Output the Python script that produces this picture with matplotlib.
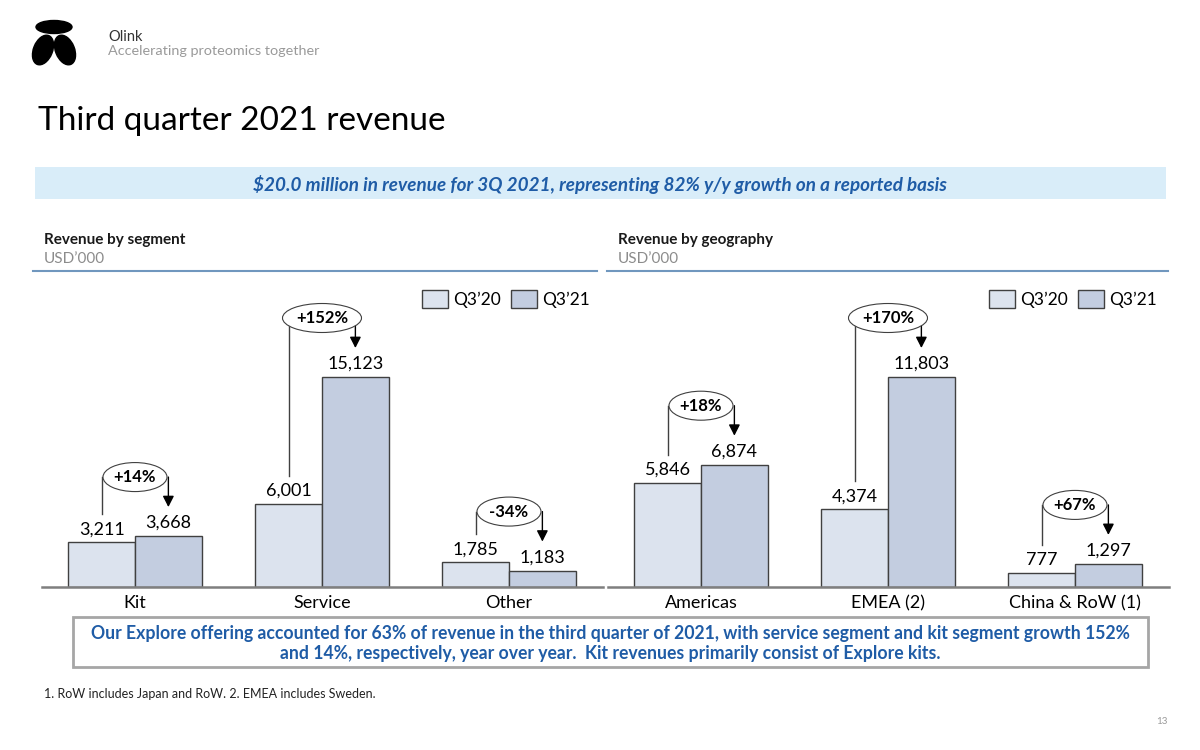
import numpy as np
import matplotlib.pyplot as plt
from matplotlib.patches import Ellipse, Rectangle

plt.rcParams['font.family'] = ['Lato', 'DejaVu Sans']

# chart values
segments = ['Kit', 'Service', 'Other']
seg_q320 = [3211, 6001, 1785]
seg_q321 = [3668, 15123, 1183]
seg_growth = ['+14%', '+152%', '-34%']

regions = ['Americas', 'EMEA (2)', 'China & RoW (1)']
geo_q320 = [5846, 4374, 777]
geo_q321 = [6874, 11803, 1297]
geo_growth = ['+18%', '+170%', '+67%']

series_names = ['Q3\u201920', 'Q3\u201921']

C20 = '#DCE3EE'
C21 = '#C3CDE0'
EDGE = '#404040'
BLUE = '#1F5CA6'

W, H = 1200, 750
fig = plt.figure(figsize=(12, 7.5), dpi=100)

# background layer in pixel coordinates (y down)
bg = fig.add_axes([0, 0, 1, 1], zorder=0)
bg.set_xlim(0, W)
bg.set_ylim(H, 0)
bg.axis('off')

# logo
bg.add_patch(Ellipse((54, 27), 36, 13, color='black'))
bg.add_patch(Ellipse((43, 50), 19, 31, angle=22, color='black'))
bg.add_patch(Ellipse((65, 50), 19, 31, angle=-22, color='black'))
bg.text(108, 37, 'Olink', fontsize=10.5, color='#333333', va='center')
bg.text(108, 51, 'Accelerating proteomics together', fontsize=10.4, color='#9A9A9A', va='center')

bg.text(38, 121, 'Third quarter 2021 revenue', fontsize=24, color='black', va='center')

# headline banner
bg.add_patch(Rectangle((35, 167), 1131, 32, color='#D9EDF9', lw=0))
bg.text(600, 184, '$20.0 million in revenue for 3Q 2021, representing 82% y/y growth on a reported basis',
        ha='center', va='center', fontsize=13.6, color=BLUE, fontweight='bold', fontstyle='italic')

# panel headers
for x0, x1, title in [(33, 597, 'Revenue by segment'), (607, 1168, 'Revenue by geography')]:
    bg.text(x0 + 11, 240, title, fontsize=11, fontweight='bold', color='#1A1A1A', va='center')
    bg.text(x0 + 11, 259, 'USD\u2019000', fontsize=11, color='#8C8C8C', va='center')
    bg.plot([x0, x1], [271, 271], color='#7097BE', lw=1.5)

# bottom message box
bg.add_patch(Rectangle((73, 617), 1075, 50, fc='white', ec='#A6A6A6', lw=2))
bg.text(610, 634, 'Our Explore offering accounted for 63% of revenue in the third quarter of 2021, '
        'with service segment and kit segment growth 152%', ha='center', va='center',
        fontsize=12.7, fontweight='bold', color=BLUE)
bg.text(610, 653, 'and 14%, respectively, year over year.  Kit revenues primarily consist of Explore kits.',
        ha='center', va='center', fontsize=12.7, fontweight='bold', color=BLUE)

bg.text(44, 694, '1. RoW includes Japan and RoW. 2. EMEA includes Sweden.', fontsize=9,
        color='#222222', va='center')
bg.text(1168, 722, '13', fontsize=7, color='#999999', ha='right', va='center')

AX_H = 307      # axes height in pixels
BAR_PX = 210    # pixel height of the tallest bar


def draw_panel(left_px, cats, v20, v21, growth, legend_right):
    ax = fig.add_axes([left_px / W, (H - 587) / H, 561 / W, AX_H / H], zorder=1)
    ax.patch.set_alpha(0)
    n = len(cats)
    x = np.arange(n)
    bw = 0.357
    ymax = max(v20 + v21) * AX_H / BAR_PX
    ax.set_xlim(-0.5, n - 0.5)
    ax.set_ylim(0, ymax)
    py = ymax / AX_H
    px = n / 561

    b1 = ax.bar(x - bw / 2, v20, bw, color=C20, edgecolor=EDGE, linewidth=1)
    b2 = ax.bar(x + bw / 2, v21, bw, color=C21, edgecolor=EDGE, linewidth=1)

    for xi, a, b, g in zip(x, v20, v21, growth):
        ax.text(xi - bw / 2, a + 13 * py, f'{a:,}', ha='center', va='center', fontsize=13)
        ax.text(xi + bw / 2, b + 13 * py, f'{b:,}', ha='center', va='center', fontsize=13)
        ey = b + 59 * py
        ax.plot([xi - bw / 2] * 2, [a + 28 * py, ey], color=EDGE, lw=1, zorder=3)
        ax.annotate('', xy=(xi + bw / 2, b + 29 * py), xytext=(xi + bw / 2, ey),
                    arrowprops=dict(arrowstyle='-|>,head_length=0.55,head_width=0.28',
                                    color='black', lw=1, mutation_scale=12,
                                    shrinkA=0, shrinkB=0), zorder=3)
        ew = (4 + 15 * len(g)) * px
        ax.add_patch(Ellipse((xi, ey), ew, 29 * py, fc='white', ec=EDGE, lw=0.8, zorder=4))
        ax.text(xi, ey, g, ha='center', va='center', fontsize=12, fontweight='bold', zorder=5)

    for s in ['top', 'left', 'right']:
        ax.spines[s].set_visible(False)
    ax.spines['bottom'].set_color('#7F7F7F')
    ax.spines['bottom'].set_linewidth(1.8)
    ax.set_yticks([])
    ax.set_xticks(x, cats)
    ax.tick_params(axis='x', length=0, pad=6, labelsize=13)

    ax.legend([b1, b2], series_names, ncol=2, frameon=False, loc='center right',
              bbox_to_anchor=(legend_right / W, 1 - 299 / H), bbox_transform=fig.transFigure,
              fontsize=12.5, handlelength=1.5, handleheight=1.2, handletextpad=0.3,
              columnspacing=0.6, borderpad=0, borderaxespad=0)
    return ax


draw_panel(41.5, segments, seg_q320, seg_q321, seg_growth, 590)
draw_panel(607.5, regions, geo_q320, geo_q321, geo_growth, 1157)

fig.savefig('out.png', dpi=100)
